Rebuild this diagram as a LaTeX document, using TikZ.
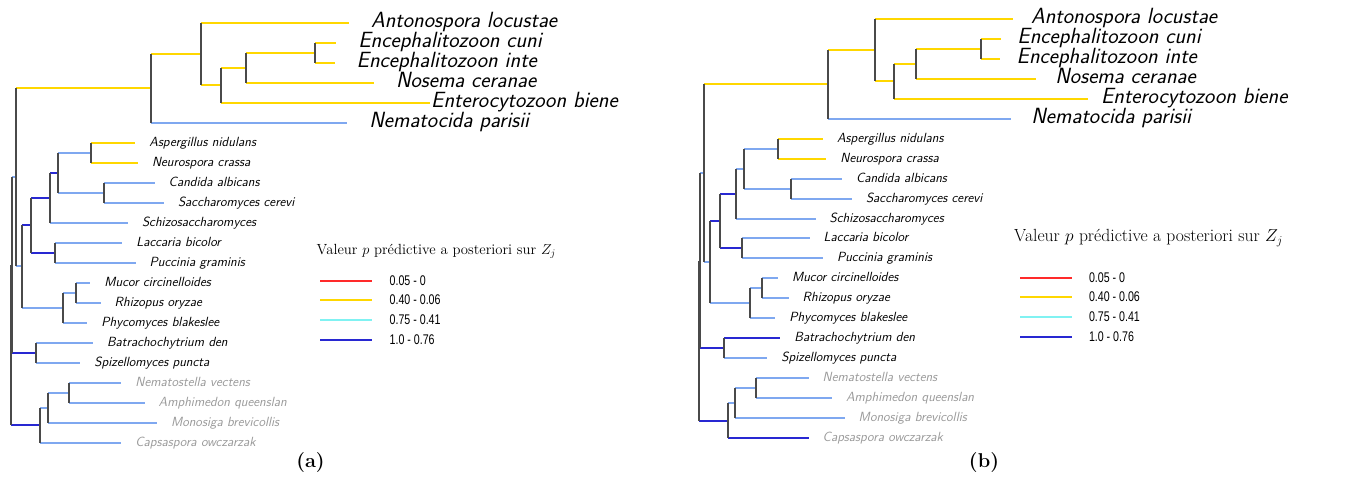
\documentclass[tikz,border=0pt]{standalone}
\usepackage{fontspec}
\newfontfamily\legfont[FakeStretch=0.76]{Liberation Sans}
\definecolor{brYellow}{HTML}{FFD700}
\definecolor{brLight}{HTML}{7FA8F0}
\definecolor{brDark}{HTML}{2828D2}
\definecolor{brStem}{HTML}{4A4A4A}
\definecolor{lgRed}{HTML}{FF2A2A}
\definecolor{lgCyan}{HTML}{80F2F2}
\definecolor{outgroup}{HTML}{9A9A9A}
\tikzset{
  pixgrid/.style={xshift=-0.5pt, yshift=0.5pt},
  hb/.style={line width=2pt},
  yb/.style={hb, draw=brYellow},
  lb/.style={hb, draw=brLight},
  db/.style={hb, draw=brDark},
  stem/.style={draw=brStem, line width=2pt},
  bigA/.style={anchor=base west, inner sep=0pt, yshift=-5pt,
    font=\fontsize{22}{26}\selectfont\sffamily\itshape},
  bigB/.style={anchor=base west, inner sep=0pt, yshift=-5pt,
    font=\fontsize{22}{26}\selectfont\sffamily\itshape},
  smalllbl/.style={anchor=base west, inner sep=0pt, xshift=14pt, yshift=-3.5pt,
    font=\fontsize{13.3}{15}\selectfont\sffamily\itshape},
  grylbl/.style={smalllbl, text=outgroup},
  legline/.style={line width=2pt},
  legnum/.style={anchor=west, inner sep=0pt, font=\legfont\fontsize{14}{16}\selectfont},
  legtitle/.style={anchor=base west, inner sep=0pt},
  caption/.style={inner sep=0pt, font=\fontsize{20}{24}\selectfont\bfseries}
}
% branch from parent #1 to child #2 drawn in style #3
\newcommand\hbr[3]{\draw[#3] (#1 |- #2) -- (#2);}
% vertical stem of node #1 spanning its children #2 and #3
\newcommand\vst[3]{\draw[stem] (#1 |- #2) -- (#1 |- #3);}
\begin{document}
\begin{tikzpicture}[x=1pt,y=-1pt]
\fill[white] (0,0) rectangle (1358,500);
\useasboundingbox (0,0) rectangle (1358,500);

% ---------------- tree (a) ----------------
\begin{scope}[pixgrid]
\coordinate (aAnt) at (349.3,23.5);
\coordinate (aCun) at (336.7,43.5);
\coordinate (aInt) at (335,63.5);
\coordinate (aNos) at (374.3,83.5);
\coordinate (aEnt) at (430,103.5);
\coordinate (aNem) at (347.7,123.5);
\coordinate (aAsp) at (135.7,143.5);
\coordinate (aNeu) at (138.3,163.5);
\coordinate (aCan) at (155,183.5);
\coordinate (aSac) at (164.3,203.5);
\coordinate (aSch) at (128.3,223.5);
\coordinate (aLac) at (122.7,243.5);
\coordinate (aPuc) at (136,263.5);
\coordinate (aMuc) at (90.7,283.5);
\coordinate (aRhi) at (101,303.5);
\coordinate (aPhy) at (87.7,323.5);
\coordinate (aBat) at (93.3,343.5);
\coordinate (aSpi) at (80.7,363.5);
\coordinate (aNma) at (121.7,383.5);
\coordinate (aAmp) at (145,403.5);
\coordinate (aMon) at (157.3,423.5);
\coordinate (aCap) at (121.7,443.5);
\coordinate (aM5) at (315.5,53.5);
\coordinate (aM4) at (246.5,68.5);
\coordinate (aM3) at (221.5,85.5);
\coordinate (aM2) at (201.5,54.5);
\coordinate (aMic) at (151.5,88.5);
\coordinate (aAN) at (91.5,153.5);
\coordinate (aCS) at (104.5,193.5);
\coordinate (aAsc) at (58.5,173.5);
\coordinate (aAscom) at (50.5,198.5);
\coordinate (aBas) at (55.5,253.5);
\coordinate (aDik) at (31.5,225.5);
\coordinate (aMR) at (76.5,293.5);
\coordinate (aMuco) at (63.5,308.5);
\coordinate (aD) at (22.5,266.5);
\coordinate (aA) at (16.5,177.5);
\coordinate (aChy) at (36.5,353.5);
\coordinate (aB) at (12.5,265.5);
\coordinate (aNA) at (69.5,393.5);
\coordinate (aX) at (48.5,408.5);
\coordinate (aHol) at (40.5,425.5);
\coordinate (aR) at (11.5,345.5);

\hbr{aA}{aMic}{yb}   \hbr{aMic}{aM2}{yb}  \hbr{aMic}{aNem}{lb}
\hbr{aM2}{aAnt}{yb}  \hbr{aM2}{aM3}{yb}   \hbr{aM3}{aM4}{yb}
\hbr{aM3}{aEnt}{yb}  \hbr{aM4}{aM5}{yb}   \hbr{aM4}{aNos}{yb}
\hbr{aM5}{aCun}{yb}  \hbr{aM5}{aInt}{yb}
\hbr{aAN}{aAsp}{yb}  \hbr{aAN}{aNeu}{yb}  \hbr{aAsc}{aAN}{lb}
\hbr{aCS}{aCan}{lb}  \hbr{aCS}{aSac}{lb}  \hbr{aAsc}{aCS}{lb}
\hbr{aAscom}{aAsc}{db} \hbr{aAscom}{aSch}{lb} \hbr{aDik}{aAscom}{db}
\hbr{aBas}{aLac}{lb} \hbr{aBas}{aPuc}{lb} \hbr{aDik}{aBas}{db}
\hbr{aD}{aDik}{db}   \hbr{aMR}{aMuc}{lb}  \hbr{aMR}{aRhi}{lb}
\hbr{aMuco}{aMR}{lb} \hbr{aMuco}{aPhy}{lb} \hbr{aD}{aMuco}{lb}
\hbr{aA}{aD}{lb}     \hbr{aB}{aA}{lb}
\hbr{aChy}{aBat}{lb} \hbr{aChy}{aSpi}{lb} \hbr{aB}{aChy}{db}
\hbr{aNA}{aNma}{lb}  \hbr{aNA}{aAmp}{lb}  \hbr{aX}{aNA}{lb}
\hbr{aX}{aMon}{lb}   \hbr{aHol}{aX}{lb}   \hbr{aHol}{aCap}{lb}
\hbr{aR}{aHol}{db}

\vst{aMic}{aM2}{aNem} \vst{aM2}{aAnt}{aM3} \vst{aM3}{aM4}{aEnt}
\vst{aM4}{aM5}{aNos}  \vst{aM5}{aCun}{aInt}
\vst{aAN}{aAsp}{aNeu} \vst{aCS}{aCan}{aSac} \vst{aAsc}{aAN}{aCS}
\vst{aAscom}{aAsc}{aSch} \vst{aBas}{aLac}{aPuc} \vst{aDik}{aAscom}{aBas}
\vst{aMR}{aMuc}{aRhi} \vst{aMuco}{aMR}{aPhy} \vst{aD}{aDik}{aMuco}
\vst{aA}{aMic}{aD}    \vst{aChy}{aBat}{aSpi} \vst{aB}{aA}{aChy}
\vst{aNA}{aNma}{aAmp} \vst{aX}{aNA}{aMon}  \vst{aHol}{aX}{aCap}
\vst{aR}{aB}{aHol}

\node[bigA, xshift=22pt] (aAnt-lbl) at (aAnt) {Antonospora locustae};
\node[bigA, xshift=22pt] (aCun-lbl) at (aCun) {Encephalitozoon cuni};
\node[bigA, xshift=22pt] (aInt-lbl) at (aInt) {Encephalitozoon inte};
\node[bigA, xshift=22pt] (aNos-lbl) at (aNos) {Nosema ceranae};
\node[bigA, xshift=1.5pt] (aEnt-lbl) at (aEnt) {Enterocytozoon biene};
\node[bigA, xshift=22pt] (aNem-lbl) at (aNem) {Nematocida parisii};
\node[smalllbl] (aAsp-lbl) at (aAsp) {Aspergillus nidulans};
\node[smalllbl] (aNeu-lbl) at (aNeu) {Neurospora crassa};
\node[smalllbl] (aCan-lbl) at (aCan) {Candida albicans};
\node[smalllbl] (aSac-lbl) at (aSac) {Saccharomyces cerevi};
\node[smalllbl] (aSch-lbl) at (aSch) {Schizosaccharomyces};
\node[smalllbl] (aLac-lbl) at (aLac) {Laccaria bicolor};
\node[smalllbl] (aPuc-lbl) at (aPuc) {Puccinia graminis};
\node[smalllbl] (aMuc-lbl) at (aMuc) {Mucor circinelloides};
\node[smalllbl] (aRhi-lbl) at (aRhi) {Rhizopus oryzae};
\node[smalllbl] (aPhy-lbl) at (aPhy) {Phycomyces blakeslee};
\node[smalllbl] (aBat-lbl) at (aBat) {Batrachochytrium den};
\node[smalllbl] (aSpi-lbl) at (aSpi) {Spizellomyces puncta};
\node[grylbl] (aNma-lbl) at (aNma) {Nematostella vectens};
\node[grylbl] (aAmp-lbl) at (aAmp) {Amphimedon queenslan};
\node[grylbl] (aMon-lbl) at (aMon) {Monosiga brevicollis};
\node[grylbl] (aCap-lbl) at (aCap) {Capsaspora owczarzak};

% legend (a)
\coordinate (aL1a) at (320.7,281.5);   \coordinate (aL1b) at (372.7,281.5);
\coordinate (aL2a) at (320.7,300.5);   \coordinate (aL2b) at (372.7,300.5);
\coordinate (aL3a) at (320.7,320.5);   \coordinate (aL3b) at (372.7,320.5);
\coordinate (aL4a) at (320.7,340.5);   \coordinate (aL4b) at (372.7,340.5);
\draw[legline, draw=lgRed] (aL1a) -- (aL1b);
\draw[legline, draw=brYellow] (aL2a) -- (aL2b);
\draw[legline, draw=lgCyan] (aL3a) -- (aL3b);
\draw[legline, draw=brDark] (aL4a) -- (aL4b);
\end{scope}
\node[legtitle, font=\fontsize{14.7}{17}\selectfont] (aLegT) at (316.5,254)
  {Valeur $p$ prédictive a posteriori sur $Z_j$};
\node[legnum] (aL1t) at (389.5,281) {0.05 - 0};
\node[legnum] (aL2t) at (389.5,300) {0.40 - 0.06};
\node[legnum] (aL3t) at (389.5,320) {0.75 - 0.41};
\node[legnum] (aL4t) at (389.5,340) {1.0 - 0.76};
\node[caption] (capA) at (310.5,463) {(a)};

% ---------------- tree (b) ----------------
\begin{scope}[pixgrid]
\coordinate (bAnt) at (1013.3,19.5);
\coordinate (bCun) at (1001.7,39.5);
\coordinate (bInt) at (1000,59.5);
\coordinate (bNos) at (1036.7,79.5);
\coordinate (bEnt) at (1088.3,99.5);
\coordinate (bNem) at (1011.7,119.5);
\coordinate (bAsp) at (823.3,139.5);
\coordinate (bNeu) at (826.7,159.5);
\coordinate (bCan) at (842.3,179.5);
\coordinate (bSac) at (852.3,199.5);
\coordinate (bSch) at (816,219.5);
\coordinate (bLac) at (810,238.5);
\coordinate (bPuc) at (823.3,258.5);
\coordinate (bMuc) at (778.3,278.5);
\coordinate (bRhi) at (789,298.5);
\coordinate (bPhy) at (775.7,318.5);
\coordinate (bBat) at (780.7,338.5);
\coordinate (bSpi) at (767.7,358.5);
\coordinate (bNma) at (809,378.5);
\coordinate (bAmp) at (832.3,398.5);
\coordinate (bMon) at (845,418.5);
\coordinate (bCap) at (809,438.5);
\coordinate (bM5) at (981.5,49.5);
\coordinate (bM4) at (916.5,64.5);
\coordinate (bM3) at (894.5,81.5);
\coordinate (bM2) at (875.5,50.5);
\coordinate (bMic) at (828.5,84.5);
\coordinate (bAN) at (778.5,149.5);
\coordinate (bCS) at (791.5,189.5);
\coordinate (bAsc) at (744.5,169.5);
\coordinate (bAscom) at (736.5,194.5);
\coordinate (bBas) at (742.5,248.5);
\coordinate (bDik) at (720.5,221.5);
\coordinate (bMR) at (762.5,288.5);
\coordinate (bMuco) at (750.5,303.5);
\coordinate (bD) at (710.5,262.5);
\coordinate (bA) at (704.5,173.5);
\coordinate (bChy) at (724.5,348.5);
\coordinate (bB) at (700.5,261.5);
\coordinate (bNA) at (756.5,388.5);
\coordinate (bX) at (735.5,403.5);
\coordinate (bHol) at (728.5,421.5);
\coordinate (bR) at (699.5,341.5);

\hbr{bA}{bMic}{yb}   \hbr{bMic}{bM2}{yb}  \hbr{bMic}{bNem}{lb}
\hbr{bM2}{bAnt}{yb}  \hbr{bM2}{bM3}{yb}   \hbr{bM3}{bM4}{yb}
\hbr{bM3}{bEnt}{yb}  \hbr{bM4}{bM5}{yb}   \hbr{bM4}{bNos}{yb}
\hbr{bM5}{bCun}{yb}  \hbr{bM5}{bInt}{yb}
\hbr{bAN}{bAsp}{yb}  \hbr{bAN}{bNeu}{yb}  \hbr{bAsc}{bAN}{lb}
\hbr{bCS}{bCan}{lb}  \hbr{bCS}{bSac}{lb}  \hbr{bAsc}{bCS}{lb}
\hbr{bAscom}{bAsc}{lb} \hbr{bAscom}{bSch}{lb} \hbr{bDik}{bAscom}{db}
\hbr{bBas}{bLac}{lb} \hbr{bBas}{bPuc}{lb} \hbr{bDik}{bBas}{db}
\hbr{bD}{bDik}{db}   \hbr{bMR}{bMuc}{lb}  \hbr{bMR}{bRhi}{lb}
\hbr{bMuco}{bMR}{lb} \hbr{bMuco}{bPhy}{lb} \hbr{bD}{bMuco}{lb}
\hbr{bA}{bD}{lb}     \hbr{bB}{bA}{lb}
\hbr{bChy}{bBat}{db} \hbr{bChy}{bSpi}{lb} \hbr{bB}{bChy}{db}
\hbr{bNA}{bNma}{lb}  \hbr{bNA}{bAmp}{lb}  \hbr{bX}{bNA}{lb}
\hbr{bX}{bMon}{lb}   \hbr{bHol}{bX}{lb}   \hbr{bHol}{bCap}{db}
\hbr{bR}{bHol}{db}

\vst{bMic}{bM2}{bNem} \vst{bM2}{bAnt}{bM3} \vst{bM3}{bM4}{bEnt}
\vst{bM4}{bM5}{bNos}  \vst{bM5}{bCun}{bInt}
\vst{bAN}{bAsp}{bNeu} \vst{bCS}{bCan}{bSac} \vst{bAsc}{bAN}{bCS}
\vst{bAscom}{bAsc}{bSch} \vst{bBas}{bLac}{bPuc} \vst{bDik}{bAscom}{bBas}
\vst{bMR}{bMuc}{bRhi} \vst{bMuco}{bMR}{bPhy} \vst{bD}{bDik}{bMuco}
\vst{bA}{bMic}{bD}    \vst{bChy}{bBat}{bSpi} \vst{bB}{bA}{bChy}
\vst{bNA}{bNma}{bAmp} \vst{bX}{bNA}{bMon}  \vst{bHol}{bX}{bCap}
\vst{bR}{bB}{bHol}

\node[bigB, xshift=18pt] (bAnt-lbl) at (bAnt) {Antonospora locustae};
\node[bigB, xshift=16pt] (bCun-lbl) at (bCun) {Encephalitozoon cuni};
\node[bigB, xshift=17pt] (bInt-lbl) at (bInt) {Encephalitozoon inte};
\node[bigB, xshift=19pt] (bNos-lbl) at (bNos) {Nosema ceranae};
\node[bigB, xshift=13pt] (bEnt-lbl) at (bEnt) {Enterocytozoon biene};
\node[bigB, xshift=20pt] (bNem-lbl) at (bNem) {Nematocida parisii};
\node[smalllbl] (bAsp-lbl) at (bAsp) {Aspergillus nidulans};
\node[smalllbl] (bNeu-lbl) at (bNeu) {Neurospora crassa};
\node[smalllbl] (bCan-lbl) at (bCan) {Candida albicans};
\node[smalllbl] (bSac-lbl) at (bSac) {Saccharomyces cerevi};
\node[smalllbl] (bSch-lbl) at (bSch) {Schizosaccharomyces};
\node[smalllbl] (bLac-lbl) at (bLac) {Laccaria bicolor};
\node[smalllbl] (bPuc-lbl) at (bPuc) {Puccinia graminis};
\node[smalllbl] (bMuc-lbl) at (bMuc) {Mucor circinelloides};
\node[smalllbl] (bRhi-lbl) at (bRhi) {Rhizopus oryzae};
\node[smalllbl] (bPhy-lbl) at (bPhy) {Phycomyces blakeslee};
\node[smalllbl] (bBat-lbl) at (bBat) {Batrachochytrium den};
\node[smalllbl] (bSpi-lbl) at (bSpi) {Spizellomyces puncta};
\node[grylbl] (bNma-lbl) at (bNma) {Nematostella vectens};
\node[grylbl] (bAmp-lbl) at (bAmp) {Amphimedon queenslan};
\node[grylbl] (bMon-lbl) at (bMon) {Monosiga brevicollis};
\node[grylbl] (bCap-lbl) at (bCap) {Capsaspora owczarzak};

% legend (b)
\coordinate (bL1a) at (1020.7,278.5);  \coordinate (bL1b) at (1072.7,278.5);
\coordinate (bL2a) at (1020.7,297.5);  \coordinate (bL2b) at (1072.7,297.5);
\coordinate (bL3a) at (1020.7,317.5);  \coordinate (bL3b) at (1072.7,317.5);
\coordinate (bL4a) at (1020.7,337.5);  \coordinate (bL4b) at (1072.7,337.5);
\draw[legline, draw=lgRed] (bL1a) -- (bL1b);
\draw[legline, draw=brYellow] (bL2a) -- (bL2b);
\draw[legline, draw=lgCyan] (bL3a) -- (bL3b);
\draw[legline, draw=brDark] (bL4a) -- (bL4b);
\end{scope}
\node[legtitle, font=\fontsize{17.6}{21}\selectfont] (bLegT) at (1014,241.5)
  {Valeur $p$ prédictive a posteriori sur $Z_j$};
\node[legnum] (bL1t) at (1088.8,278) {0.05 - 0};
\node[legnum] (bL2t) at (1088.8,297) {0.40 - 0.06};
\node[legnum] (bL3t) at (1088.8,317) {0.75 - 0.41};
\node[legnum] (bL4t) at (1088.8,337) {1.0 - 0.76};
\node[caption] (capB) at (984,463) {(b)};
\end{tikzpicture}
\end{document}
